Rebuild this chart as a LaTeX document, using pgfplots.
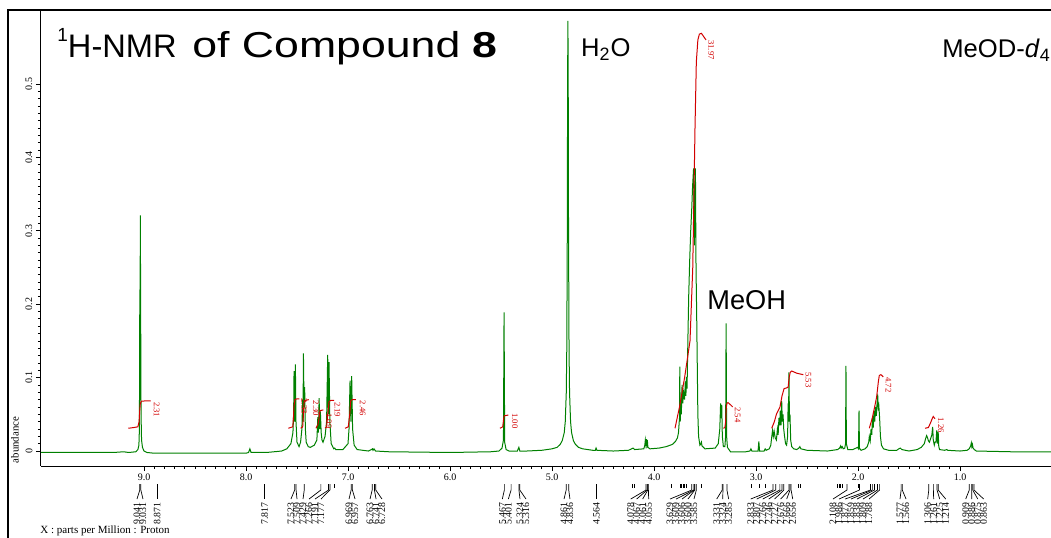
\documentclass[border=0pt]{standalone}
\usepackage{pgfplots}
\pgfplotsset{compat=1.18}
\usepackage{fontspec}
\setmainfont{Liberation Serif}
\newfontfamily\arial{Liberation Sans}
\definecolor{specgreen}{RGB}{0,128,0}
\definecolor{intred}{RGB}{210,0,0}
\tikzset{
 plabel/.style={rotate=90, anchor=east, inner sep=0pt, font=\fontsize{4.9}{5}\selectfont},
 ilabel/.style={rotate=-90, anchor=west, inner sep=0pt, text=intred, font=\fontsize{4.3}{4.5}\selectfont},
}
\begin{document}
\begin{tikzpicture}
\begin{axis}[
  scale only axis, width=505pt, height=228pt,
  at={(0,0)}, anchor=south west,
  x dir=reverse, xmin=0.108, xmax=10.01,
  ymin=-0.0204, ymax=0.6008,
  axis x line*=bottom, axis y line*=left,
  axis line style={line width=0.5pt,-},
  clip=false,
  xtick={1,2,3,4,5,6,7,8,9},
  xticklabels={1.0,2.0,3.0,4.0,5.0,6.0,7.0,8.0,9.0},
  minor x tick num=9,
  ytick={0,0.1,0.2,0.3,0.4,0.5},
  yticklabels={0,0.1,0.2,0.3,0.4,0.5},
  minor y tick num=9,
  tick align=outside,
  major tick length=2.6pt, minor tick length=1.6pt,
  tick style={black, line width=0.4pt},
  xticklabel style={font=\fontsize{5}{6}\selectfont, inner sep=1pt},
  yticklabel style={font=\fontsize{5}{6}\selectfont, rotate=90, anchor=south, inner sep=1.5pt},
]
% spectrum
\addplot[specgreen, line width=0.5pt] coordinates {
(10.01,-0.002) (9.30,-0.002) (9.20,-0.001) (9.15,-0.002) (9.08,-0.001) (9.06,0.002) (9.05,0.008)
(9.045,0.03) (9.041,0.22) (9.039,0.12) (9.036,0.321) (9.033,0.2) (9.029,0.05) (9.024,0.015)
(9.015,0.005) (9.00,0.0) (8.97,-0.002) (8.90,-0.003) (8.50,-0.003) (8.00,-0.003) (7.975,-0.002)
(7.962,0.003) (7.950,-0.002) (7.80,-0.002) (7.65,0.0) (7.60,0.003) (7.56,0.01) (7.54,0.025)
(7.533,0.05) (7.529,0.109) (7.523,0.04) (7.516,0.118) (7.51,0.04) (7.50,0.012) (7.48,0.006)
(7.465,0.012) (7.452,0.03) (7.445,0.07) (7.441,0.04) (7.437,0.133) (7.431,0.06) (7.425,0.087)
(7.418,0.03) (7.41,0.012) (7.39,0.006) (7.37,0.005) (7.33,0.008) (7.305,0.015) (7.296,0.046)
(7.29,0.025) (7.283,0.072) (7.277,0.03) (7.271,0.054) (7.263,0.025) (7.255,0.015) (7.245,0.012)
(7.225,0.02) (7.21,0.04) (7.199,0.131) (7.193,0.05) (7.186,0.121) (7.178,0.04) (7.165,0.01)
(7.14,0.003) (7.13,0.004) (7.12,0.002) (7.05,0.002) (7.00,0.01) (6.99,0.03) (6.980,0.096)
(6.972,0.04) (6.964,0.102) (6.955,0.03) (6.94,0.008) (6.91,0.002) (6.80,0.0) (6.77,0.002)
(6.760,0.003) (6.755,0.001) (6.745,0.003) (6.73,0.0) (6.60,-0.001) (6.00,-0.002) (5.60,-0.001)
(5.52,0.0) (5.49,0.004) (5.476,0.015) (5.470,0.189) (5.464,0.012) (5.45,0.002) (5.42,0.0)
(5.34,0.0) (5.325,0.005) (5.315,0.0) (5.25,0.0) (5.10,0.001) (5.00,0.003) (4.95,0.005)
(4.92,0.009) (4.90,0.014) (4.88,0.025) (4.87,0.04) (4.86,0.08) (4.855,0.14) (4.85,0.30)
(4.847,0.50) (4.844,0.586) (4.841,0.50) (4.838,0.30) (4.833,0.14) (4.828,0.08) (4.818,0.04)
(4.808,0.025) (4.79,0.014) (4.77,0.009) (4.74,0.005) (4.70,0.003) (4.60,0.001) (4.575,0.001)
(4.568,0.004) (4.56,0.001) (4.40,0.0) (4.25,0.001) (4.22,0.003) (4.205,0.004) (4.19,0.002)
(4.10,0.003) (4.09,0.008) (4.085,0.015) (4.08,0.009) (4.075,0.016) (4.07,0.009) (4.065,0.015)
(4.06,0.005) (4.04,0.003) (3.95,0.004) (3.88,0.006) (3.82,0.009) (3.79,0.013) (3.77,0.018)
(3.76,0.025) (3.75,0.045) (3.747,0.115) (3.743,0.04) (3.738,0.065) (3.732,0.05) (3.725,0.09)
(3.718,0.065) (3.71,0.08) (3.70,0.07) (3.693,0.095) (3.687,0.075) (3.683,0.101) (3.676,0.085)
(3.668,0.15) (3.66,0.21) (3.65,0.26) (3.64,0.30) (3.63,0.33) (3.622,0.36) (3.612,0.385)
(3.604,0.28) (3.594,0.385) (3.588,0.25) (3.582,0.19) (3.576,0.12) (3.570,0.05) (3.563,0.02)
(3.55,0.008) (3.54,0.01) (3.535,0.012) (3.53,0.007) (3.50,0.003) (3.40,0.004) (3.37,0.01)
(3.355,0.03) (3.347,0.065) (3.342,0.045) (3.336,0.063) (3.33,0.02) (3.32,0.006) (3.305,0.006)
(3.298,0.02) (3.293,0.174) (3.288,0.02) (3.28,0.005) (3.25,-0.001) (3.10,-0.001) (3.06,0.0)
(3.05,0.003) (3.04,0.0) (2.98,0.0) (2.972,0.013) (2.965,0.0) (2.92,0.0) (2.91,0.003) (2.90,0.001)
(2.87,0.003) (2.855,0.008) (2.845,0.02) (2.838,0.028) (2.83,0.02) (2.822,0.027) (2.812,0.018)
(2.80,0.015) (2.79,0.03) (2.783,0.022) (2.775,0.045) (2.768,0.035) (2.762,0.055) (2.755,0.035)
(2.748,0.068) (2.742,0.04) (2.735,0.05) (2.728,0.03) (2.72,0.02) (2.71,0.01) (2.70,0.008)
(2.69,0.02) (2.685,0.065) (2.681,0.04) (2.677,0.107) (2.672,0.04) (2.667,0.05) (2.66,0.015)
(2.65,0.006) (2.63,0.003) (2.60,0.002) (2.58,0.004) (2.57,0.006) (2.56,0.003) (2.50,0.001)
(2.30,0.0) (2.20,0.002) (2.18,0.004) (2.17,0.007) (2.165,0.004) (2.155,0.006) (2.145,0.003)
(2.13,0.004) (2.122,0.01) (2.118,0.116) (2.114,0.01) (2.10,0.002) (2.05,0.002) (2.02,0.004)
(2.005,0.005) (1.995,0.003) (1.990,0.055) (1.986,0.004) (1.97,0.001) (1.93,0.003) (1.91,0.006)
(1.895,0.012) (1.889,0.02) (1.88,0.014) (1.872,0.03) (1.865,0.022) (1.857,0.048) (1.85,0.032)
(1.842,0.055) (1.836,0.04) (1.828,0.06) (1.82,0.048) (1.813,0.065) (1.807,0.077) (1.80,0.055)
(1.795,0.06) (1.788,0.045) (1.78,0.02) (1.77,0.008) (1.75,0.003) (1.70,0.001) (1.62,0.001)
(1.60,0.003) (1.585,0.004) (1.57,0.002) (1.50,0.0) (1.42,0.002) (1.38,0.005) (1.35,0.01)
(1.335,0.018) (1.327,0.021) (1.318,0.018) (1.31,0.014) (1.30,0.012) (1.29,0.016) (1.276,0.022)
(1.268,0.033) (1.262,0.015) (1.252,0.008) (1.245,0.012) (1.236,0.012) (1.228,0.028) (1.222,0.01)
(1.214,0.026) (1.208,0.006) (1.20,0.002) (1.15,0.001) (1.13,0.002) (1.12,0.001) (1.00,0.0)
(0.93,0.001) (0.91,0.003) (0.895,0.007) (0.889,0.011) (0.884,0.006) (0.878,0.009) (0.872,0.004)
(0.86,0.002) (0.84,0.0) (0.50,-0.001) (0.108,-0.001)
};
% integrals
\addplot[intred, line width=0.5pt] coordinates {(9.154,0.031) (9.10,0.032) (9.06,0.033) (9.048,0.04) (9.042,0.055) (9.036,0.065) (9.025,0.068) (8.934,0.0685)};
\addplot[intred, line width=0.5pt] coordinates {(7.585,0.031) (7.542,0.033) (7.535,0.045) (7.529,0.062) (7.52,0.07) (7.503,0.071) (7.477,0.071)};
\addplot[intred, line width=0.5pt] coordinates {(7.464,0.031) (7.444,0.033) (7.437,0.05) (7.431,0.066) (7.42,0.069) (7.385,0.070)};
\addplot[intred, line width=0.5pt] coordinates {(7.314,0.031) (7.295,0.036) (7.283,0.046) (7.275,0.055) (7.242,0.056)};
\addplot[intred, line width=0.5pt] coordinates {(7.225,0.031) (7.209,0.033) (7.199,0.05) (7.186,0.067) (7.17,0.069) (7.137,0.069)};
\addplot[intred, line width=0.5pt] coordinates {(7.029,0.031) (6.997,0.033) (6.983,0.05) (6.974,0.068) (6.96,0.070) (6.922,0.070)};
\addplot[intred, line width=0.5pt] coordinates {(5.51,0.031) (5.483,0.033) (5.474,0.044) (5.468,0.048) (5.428,0.049)};
\addplot[intred, line width=0.5pt] coordinates {(3.794,0.031) (3.75,0.06) (3.70,0.10) (3.647,0.15) (3.62,0.25) (3.598,0.44) (3.585,0.53) (3.57,0.56) (3.555,0.568) (3.535,0.569) (3.515,0.565) (3.49,0.56)};
\addplot[intred, line width=0.5pt] coordinates {(3.32,0.031) (3.305,0.032) (3.298,0.04) (3.292,0.058) (3.285,0.065) (3.275,0.066) (3.25,0.063) (3.228,0.060)};
\addplot[intred, line width=0.5pt] coordinates {(2.846,0.031) (2.82,0.04) (2.80,0.05) (2.765,0.06) (2.745,0.075) (2.725,0.085) (2.70,0.086) (2.685,0.087) (2.675,0.10) (2.665,0.107) (2.65,0.109) (2.60,0.106) (2.536,0.104)};
\addplot[intred, line width=0.5pt] coordinates {(1.889,0.031) (1.86,0.045) (1.84,0.058) (1.817,0.074) (1.80,0.095) (1.791,0.103) (1.775,0.104) (1.752,0.101)};
\addplot[intred, line width=0.5pt] coordinates {(1.343,0.031) (1.31,0.032) (1.29,0.038) (1.27,0.045) (1.262,0.047) (1.245,0.044)};
% integral values
\node[ilabel] at (axis cs:8.875,0.067) {2.31};
\node[ilabel] at (axis cs:7.431,0.072) {2.33};
\node[ilabel] at (axis cs:7.314,0.069) {2.30};
\node[ilabel] at (axis cs:7.186,0.052) {1.09};
\node[ilabel] at (axis cs:7.105,0.067) {2.19};
\node[ilabel] at (axis cs:6.856,0.069) {2.46};
\node[ilabel] at (axis cs:5.363,0.052) {1.00};
\node[ilabel] at (axis cs:3.44,0.56) {31.97};
\node[ilabel] at (axis cs:3.18,0.060) {2.54};
\node[ilabel] at (axis cs:2.487,0.1076) {5.53};
\node[ilabel] at (axis cs:1.703,0.1008) {4.72};
\node[ilabel] at (axis cs:1.186,0.046) {1.26};
% peak picking
\foreach \p/\l/\t in {9.041/9.069/9.041, 9.031/9.010/9.031, 8.871/8.871/8.871, 7.817/7.817/7.817,
 7.523/7.559/7.523, 7.509/7.500/7.509, 7.429/7.441/7.429, 7.266/7.382/7.266, 7.191/7.324/7.191, 7.177/7.265/7.177,
 6.969/6.990/6.969, 6.957/6.931/6.957, 6.763/6.784/6.763, 6.741/6.725/6.741, 6.728/6.667/6.728,
 5.467/5.487/5.467, 5.401/5.428/5.401, 5.324/5.314/5.324, 5.316/5.255/5.316,
 4.861/4.882/4.861, 4.836/4.824/4.836, 4.564/4.564/4.564,
 4.078/4.228/4.078, 4.067/4.170/4.067, 4.061/4.111/4.061, 4.055/4.052/4.055,
 3.629/3.843/3.629, 3.609/3.784/3.609, 3.606/3.725/3.606, 3.600/3.667/3.600, 3.585/3.608/3.585,
 3.331/3.385/3.331, 3.324/3.326/3.324, 3.285/3.268/3.285,
 2.833/3.052/2.833, 2.807/2.993/2.807, 2.766/2.934/2.766, 2.746/2.875/2.746, 2.727/2.817/2.727,
 2.676/2.758/2.676, 2.666/2.699/2.666, 2.656/2.640/2.656,
 2.108/2.245/2.108, 1.986/2.186/1.986, 1.877/2.127/1.877, 1.859/2.069/1.859, 1.838/2.010/1.838,
 1.809/1.951/1.809, 1.788/1.892/1.788, 1.577/1.588/1.577, 1.566/1.529/1.566,
 1.306/1.317/1.306, 1.261/1.258/1.261, 1.225/1.199/1.225, 1.214/1.140/1.214,
 0.909/0.944/0.909, 0.886/0.885/0.886, 0.875/0.826/0.875, 0.863/0.768/0.863}{
  \edef\temp{\noexpand\draw[line width=0.35pt] (axis cs:\p,-0.045) -- (axis cs:\p,-0.0531) -- (axis cs:\l,-0.0654);
   \noexpand\node[plabel] at (axis cs:\l,-0.0695) {\t};}
  \temp
}
\foreach \p in {7.13, 4.21, 4.195, 3.83, 3.745, 3.73, 3.715, 3.70, 3.68, 3.535, 3.05, 2.97, 2.91, 2.58, 2.565, 2.20, 2.185, 2.17, 2.155, 2.0, 1.995}{
  \edef\temp{\noexpand\draw[line width=0.35pt] (axis cs:\p,-0.045) -- (axis cs:\p,-0.050);}
  \temp
}
\end{axis}
% frame
\draw[line width=0.6pt] (-16.5pt,-40pt) -- (-16.5pt,228pt) -- (530pt,228pt);
% texts
\node[anchor=base west, inner sep=0pt] at (8pt,204.5pt) {\arial\fontsize{16.3}{18}\selectfont\raisebox{7.6pt}{\fontsize{9.5}{10}\selectfont 1}H-NMR};
\node[anchor=base west, inner sep=0pt] at (75.5pt,204.5pt) {\arial\scalebox{1.24}[1]{\fontsize{18}{20}\selectfont of Compound \textbf{8}}};
\node[anchor=base west, inner sep=0pt] at (269.85pt,204.65pt) {\arial\fontsize{12.8}{14}\selectfont H\textsubscript{2}O};
\node[anchor=base west, inner sep=0pt] at (333pt,78.5pt) {\arial\fontsize{13.6}{15}\selectfont MeOH};
\node[anchor=base west, inner sep=0pt] at (450.5pt,204.5pt) {\arial\fontsize{12.8}{14}\selectfont MeOD-\textit{d}\textsubscript{4}};
\node[rotate=90, inner sep=0pt, font=\fontsize{5.4}{6}\selectfont] at (-13pt,13pt) {abundance};
\node[anchor=west, inner sep=0pt, font=\fontsize{5.5}{6}\selectfont] at (-0.5pt,-32.6pt) {X : parts per Million : Proton};
\pgfresetboundingbox
\path[use as bounding box] (-20.5pt,-35.5pt) rectangle (505pt,233pt);
\end{tikzpicture}
\end{document}
